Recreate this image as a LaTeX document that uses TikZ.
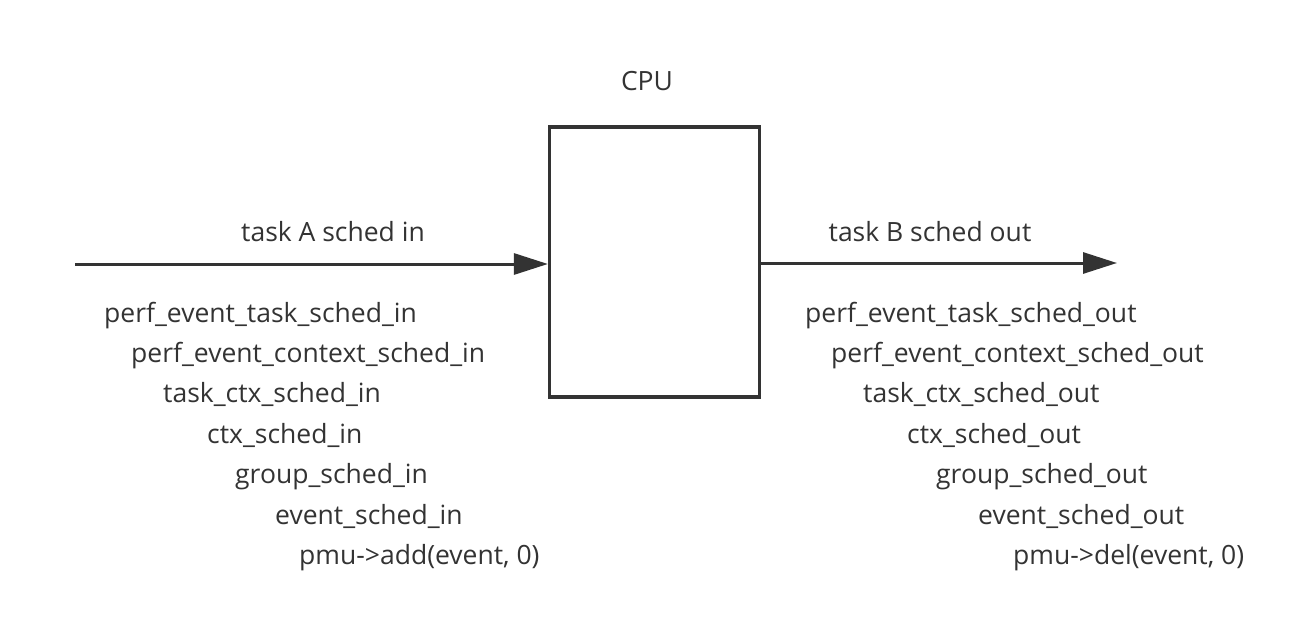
\documentclass[tikz,border=0pt]{standalone}
\usepackage{fontspec}
\setmainfont{Open Sans}
\usetikzlibrary{arrows.meta}
\definecolor{ink}{HTML}{333333}
\begin{document}
\begin{tikzpicture}[x=1pt,y=-1pt,
  lbl/.style={inner sep=0pt,anchor=base west,text=ink,font=\fontsize{26.5}{30}\selectfont},
  ctr/.style={inner sep=0pt,anchor=base,text=ink,font=\fontsize{26.5}{30}\selectfont},
  flow/.style={draw=ink,line width=3pt,-{Triangle[length=34pt,width=21pt]}},
  cpubox/.style={draw=ink,line width=3.2pt,minimum width=210pt,minimum height=270pt,inner sep=0pt}]
\useasboundingbox (0,0) rectangle (1310,642);
\node[cpubox] (cpu) at (654.5,262) {};
\node[ctr] (cpulbl) at (647,91) {CPU};
\coordinate (ls) at (75,264);
\coordinate (re) at (1117,263);
\draw[flow] (ls) -- (cpu.west |- ls);
\draw[flow] (cpu.east |- re) -- (re);
\node[ctr] (ta) at (333,241) {task A sched in};
\node[ctr] (tb) at (930,241) {task B sched out};
\node[lbl] (l1) at (104,322) {perf\_event\_task\_sched\_in};
\node[lbl] (l2) at (131,362) {perf\_event\_context\_sched\_in};
\node[lbl] (l3) at (163,402) {task\_ctx\_sched\_in};
\node[lbl] (l4) at (207,443) {ctx\_sched\_in};
\node[lbl] (l5) at (235,483) {group\_sched\_in};
\node[lbl] (l6) at (275,524) {event\_sched\_in};
\node[lbl] (l7) at (299,564) {pmu->add(event, 0)};
\node[lbl] (r1) at (805,322) {perf\_event\_task\_sched\_out};
\node[lbl] (r2) at (831,362) {perf\_event\_context\_sched\_out};
\node[lbl] (r3) at (863,402) {task\_ctx\_sched\_out};
\node[lbl] (r4) at (907,443) {ctx\_sched\_out};
\node[lbl] (r5) at (936,483) {group\_sched\_out};
\node[lbl] (r6) at (978,524) {event\_sched\_out};
\node[lbl] (r7) at (1013,564) {pmu->del(event, 0)};
\end{tikzpicture}
\end{document}
